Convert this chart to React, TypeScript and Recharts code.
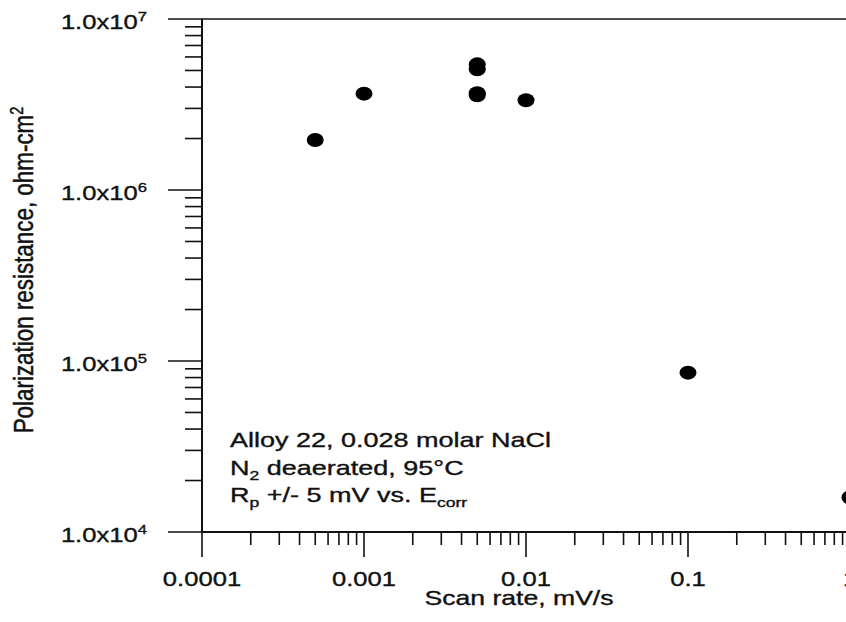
import { ScatterChart, Scatter, XAxis, YAxis, ReferenceLine, Label } from 'recharts';

// scan rate (mV/s) and polarization resistance (ohm-cm2)
const scanRate = [0.0005, 0.001, 0.005, 0.005, 0.005, 0.005, 0.01, 0.1, 1];
const resistance = [1.96e6, 3.66e6, 5.43e6, 5.08e6, 3.68e6, 3.58e6, 3.35e6, 8.55e4, 1.59e4];

const xMajor = [0.0001, 0.001, 0.01, 0.1, 1];
const xMajorLabels = ['0.0001', '0.001', '0.01', '0.1', '1'];
const yMajor = [1e4, 1e5, 1e6, 1e7];
const yExponents = ['4', '5', '6', '7'];
const minorSteps = [2, 3, 4, 5, 6, 7, 8, 9];

const data = scanRate.map((x, i) => ({ x, y: resistance[i] }));

const withMinors = (majors: number[]) => {
  const out: number[] = [...majors];
  majors.slice(0, -1).forEach((m) => minorSteps.forEach((k) => out.push(m * k)));
  return out.sort((a, b) => a - b);
};
const xTicks = withMinors(xMajor);
const yTicks = withMinors(yMajor);

const majorIndex = (v: number, majors: number[]) =>
  majors.findIndex((m) => Math.abs(v / m - 1) < 1e-6);

const FONT = '"Liberation Sans", Arial, sans-serif';
const INK = '#111';
// the scanned original has slightly heavy type
const textStyle = { fontFamily: FONT, fill: INK, stroke: INK, strokeWidth: 0.35 };

const XTick = (props: any) => {
  const { x, y, payload } = props;
  const idx = majorIndex(payload.value, xMajor);
  const major = idx >= 0;
  return (
    <g>
      <line x1={x} x2={x} y1={y} y2={y + (major ? 25 : 13)} stroke={INK} strokeWidth={1.6} />
      {major && (
        <text transform={`translate(${x},${y + 54}) scale(1.28,1)`} textAnchor="middle" fontSize={20} style={textStyle}>
          {xMajorLabels[idx]}
        </text>
      )}
    </g>
  );
};

const YTick = (props: any) => {
  const { x, y, payload } = props;
  const idx = majorIndex(payload.value, yMajor);
  const major = idx >= 0;
  return (
    <g>
      <line x1={x - (major ? 34 : 17)} x2={x} y1={y} y2={y} stroke={INK} strokeWidth={1.6} />
      {major && (
        <text transform={`translate(${x - 55},${y + 10}) scale(1.28,1)`} textAnchor="end" fontSize={20} style={textStyle}>
          1.0x10
          <tspan dy={-8} fontSize={13}>{yExponents[idx]}</tspan>
        </text>
      )}
    </g>
  );
};

const Dot = (props: any) => <ellipse cx={props.cx} cy={props.cy} rx={8.5} ry={7} fill="#000" />;

export default function App() {
  return (
    <div style={{ position: 'absolute', left: 0, top: 0, width: 846, height: 622, overflow: 'hidden', background: '#fff' }}>
      <ScatterChart width={860} height={622} margin={{ top: 19, right: 10, left: 0, bottom: 50 }}>
        <XAxis
          dataKey="x"
          type="number"
          scale="log"
          domain={[0.0001, 1]}
          allowDataOverflow
          ticks={xTicks}
          interval={0}
          tick={<XTick />}
          tickSize={0}
          tickMargin={0}
          tickLine={false}
          height={40}
          axisLine={{ stroke: INK, strokeWidth: 2 }}
        >
          <Label
            content={() => (
              <text transform="translate(519,605) scale(1.33,1)" textAnchor="middle" fontSize={20} style={textStyle}>
                Scan rate, mV/s
              </text>
            )}
          />
        </XAxis>
        <YAxis
          dataKey="y"
          type="number"
          scale="log"
          domain={[1e4, 1e7]}
          allowDataOverflow
          ticks={yTicks}
          interval={0}
          tick={<YTick />}
          tickSize={0}
          tickMargin={0}
          tickLine={false}
          width={202}
          axisLine={{ stroke: INK, strokeWidth: 2 }}
        >
          <Label
            content={() => (
              <text transform="translate(33,270) rotate(-90) scale(1.12,1.37)" textAnchor="middle" fontSize={20} style={textStyle}>
                Polarization resistance, ohm-cm
                <tspan dy={-7} fontSize={13}>2</tspan>
              </text>
            )}
          />
        </YAxis>
        <ReferenceLine y={1e7} stroke={INK} strokeWidth={1.6} ifOverflow="visible" />
        <Scatter data={data} shape={<Dot />} isAnimationActive={false} />
      </ScatterChart>
      <svg width={846} height={622} style={{ position: 'absolute', left: 0, top: 0, pointerEvents: 'none' }}>
        <g fontSize={20} style={textStyle}>
          <text transform="translate(230,447) scale(1.35,1)">Alloy 22, 0.028 molar NaCl</text>
          <text transform="translate(230,474.5) scale(1.35,1)">
            N<tspan dy={5} fontSize={13}>2</tspan>
            <tspan dy={-5}> deaerated, 95°C</tspan>
          </text>
          <text transform="translate(230,502) scale(1.35,1)">
            R<tspan dy={5} fontSize={13}>p</tspan>
            <tspan dy={-5}> +/- 5 mV vs. E</tspan>
            <tspan dy={5} fontSize={13}>corr</tspan>
          </text>
        </g>
      </svg>
    </div>
  );
}
